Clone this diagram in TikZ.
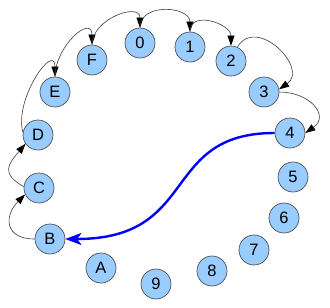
\documentclass[tikz,border=0pt]{standalone}
\usepackage{fontspec}
\setmainfont{Liberation Sans}
\usetikzlibrary{arrows.meta}
\definecolor{nodefill}{RGB}{153,204,255}
\definecolor{nodeline}{RGB}{80,80,80}
\definecolor{edgeline}{RGB}{60,60,60}
\begin{document}
\begin{tikzpicture}[x=1pt,y=-1pt,
  ring/.style={circle,draw=nodeline,fill=nodefill,line width=0.7pt,minimum size=30pt,inner sep=0pt,font=\fontsize{16.5}{16.5}\selectfont},
  link/.style={draw=edgeline,line width=0.6pt,-{Triangle[length=10pt,width=7pt,color=black]}},
  jump/.style={draw=blue,line width=2.4pt,-{Stealth[length=16pt,width=12pt,inset=4pt]}}]
\useasboundingbox (0,0) rectangle (330,308);
\node[ring] (n0) at (140,43) {0};
\node[ring] (n1) at (190,47) {1};
\node[ring] (n2) at (231,61) {2};
\node[ring] (n3) at (264,92) {3};
\node[ring] (n4) at (290,133) {4};
\node[ring] (n5) at (293,177) {5};
\node[ring] (n6) at (284,218) {6};
\node[ring] (n7) at (254,250) {7};
\node[ring] (n8) at (212,271) {8};
\node[ring] (n9) at (156,284) {9};
\node[ring] (nA) at (101,268) {A};
\node[ring] (nB) at (50,239) {B};
\node[ring] (nC) at (39,188) {C};
\node[ring] (nD) at (38,135) {D};
\node[ring] (nE) at (55,92) {E};
\node[ring] (nF) at (92,60) {F};
\draw[link] (nB.west) to[out=180,in=225,looseness=1.7] (nC.205);
\draw[link] (nC.175) to[out=150,in=230,looseness=1.6] (nD.215);
\draw[link] (nD.170) to[out=105,in=90,looseness=1.4] (nE.north);
\draw[link] (nE.north) to[out=90,in=90,looseness=1.6] (nF.north);
\draw[link] (nF.north) to[out=90,in=90,looseness=1.3] (n0.north);
\draw[link] (n0.north) to[out=90,in=90,looseness=1.3] (n1.north);
\draw[link] (n1.north) to[out=90,in=90,looseness=1.3] (n2.north);
\draw[link] (n2.65) to[out=60,in=35,looseness=1.6] (n3.10);
\draw[link] (n3.east) to[out=0,in=35,looseness=1.6] (n4.east);
\draw[jump] (n4.west) .. controls +(-115,0) and +(135,0) .. (nB.east);
\end{tikzpicture}
\end{document}
